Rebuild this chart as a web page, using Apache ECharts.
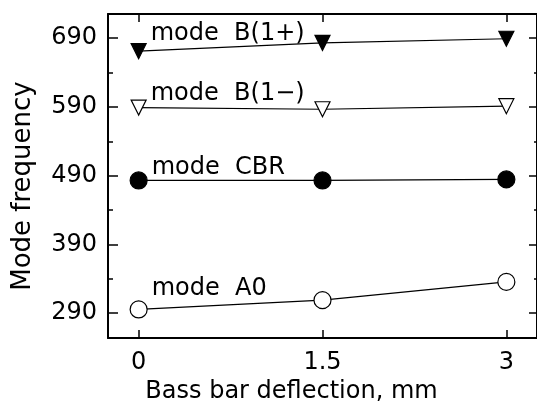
<!DOCTYPE html>
<html>
<head>
<meta charset="utf-8">
<script src="https://cdn.jsdelivr.net/npm/echarts@6/dist/echarts.min.js"></script>
<style>html,body{margin:0;padding:0;background:#fff}#c{width:537px;height:412px}</style>
</head>
<body>
<div id="c"></div>
<script>
const xValues = [0, 1.5, 3];
const modeB1plus = [671, 683, 689];
const modeB1minus = [589, 586.5, 591];
const modeCBR = [483, 483, 484.5];
const modeA0 = [295.5, 309, 335.5];
const seriesNames = ['mode  B(1+)', 'mode  B(1\u2212)', 'mode  CBR', 'mode  A0'];
const xTicks = [0, 1.5, 3];
const yTicks = [290, 390, 490, 590, 690];
const yMinorTicks = [340, 440, 540, 640];

const FONT = 'DejaVu Sans';
const chart = echarts.init(document.getElementById('c'));

function pairs(ys) { return xValues.map((x, i) => [x, ys[i]]); }
function mkSeries(name, ys, symbol, rotate, size, filled, labelDy) {
  const data = pairs(ys).map((p, i) => i === 0 ? {
    value: p,
    label: { show: true, position: 'right', distance: 4, offset: [0, labelDy], formatter: name,
      color: '#000', fontFamily: FONT, fontSize: 24 }
  } : { value: p });
  return {
    type: 'line', name: name, data: data, symbol: symbol, symbolRotate: rotate, symbolSize: size,
    showAllSymbol: true, z: 5,
    lineStyle: { color: '#000', width: 1.2 },
    itemStyle: { color: filled ? '#000' : '#fff', borderColor: '#000', borderWidth: 1.2 },
    emphasis: { disabled: true }, animation: false
  };
}

const axLine = { show: true, onZero: false, lineStyle: { color: '#000', width: 2 } };
const noLine = { show: false, onZero: false };
const tickStyle = { color: '#000', width: 1.5 };

chart.setOption({
  animation: false,
  grid: { left: 108, right: 0, top: 14, bottom: 74 },
  xAxis: [
    { type: 'value', position: 'bottom', min: -0.25, max: 3.25,
      axisLine: axLine, splitLine: { show: false },
      axisTick: { show: true, inside: true, length: 8, customValues: xTicks, lineStyle: tickStyle },
      axisLabel: { customValues: xTicks, color: '#000', fontFamily: FONT, fontSize: 24, margin: 13 },
      name: 'Bass bar deflection, mm', nameLocation: 'middle', nameGap: 37,
      nameTextStyle: { color: '#000', fontFamily: FONT, fontSize: 24, padding: [0, 62, 0, 0] } },
    { type: 'value', position: 'top', min: -0.25, max: 3.25,
      axisLine: axLine, splitLine: { show: false },
      axisTick: { show: true, inside: true, length: 8, customValues: xTicks, lineStyle: tickStyle },
      axisLabel: { show: false } }
  ],
  yAxis: [
    { type: 'value', position: 'left', min: 254, max: 725,
      axisLine: axLine, splitLine: { show: false },
      axisTick: { show: true, inside: true, length: 10, customValues: yTicks, lineStyle: tickStyle },
      axisLabel: { customValues: yTicks, color: '#000', fontFamily: FONT, fontSize: 24, margin: 11 },
      name: 'Mode frequency', nameLocation: 'middle', nameGap: 72,
      nameTextStyle: { color: '#000', fontFamily: FONT, fontSize: 26, padding: [0, 20, 0, 0] } },
    { type: 'value', position: 'left', min: 254, max: 725,
      axisLine: noLine, splitLine: { show: false },
      axisTick: { show: true, inside: true, length: 5, customValues: yMinorTicks, lineStyle: tickStyle },
      axisLabel: { show: false } },
    { type: 'value', position: 'right', min: 254, max: 725,
      axisLine: axLine, splitLine: { show: false },
      axisTick: { show: true, inside: true, length: 8, customValues: yTicks, lineStyle: tickStyle },
      axisLabel: { show: false } },
    { type: 'value', position: 'right', min: 254, max: 725,
      axisLine: noLine, splitLine: { show: false },
      axisTick: { show: true, inside: true, length: 3, customValues: yMinorTicks, lineStyle: tickStyle },
      axisLabel: { show: false } }
  ],
  series: [
    mkSeries(seriesNames[0], modeB1plus, 'triangle', 180, 15, true, -17),
    mkSeries(seriesNames[1], modeB1minus, 'triangle', 180, 15, false, -14),
    mkSeries(seriesNames[2], modeCBR, 'circle', 0, 17, true, -13),
    mkSeries(seriesNames[3], modeA0, 'circle', 0, 17, false, -21)
  ]
});
</script>
</body>
</html>
